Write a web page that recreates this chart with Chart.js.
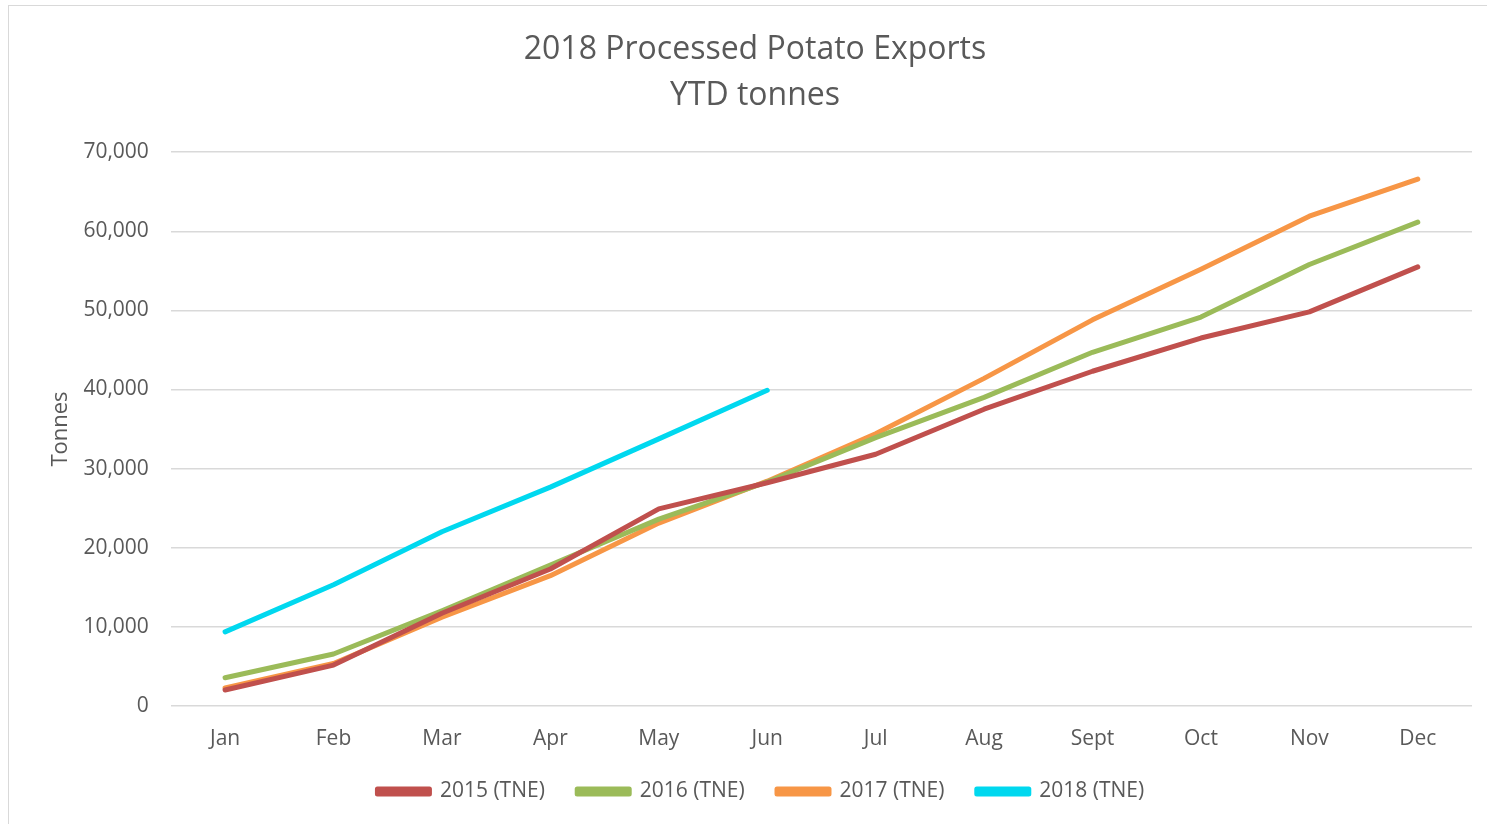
<!DOCTYPE html>
<html>
<head>
<meta charset="utf-8">
<script src="https://cdn.jsdelivr.net/npm/chart.js@4.4.1/dist/chart.umd.min.js"></script>
<style>
  html, body { margin: 0; padding: 0; background: #fff; }
  #wrap { position: absolute; left: 8px; top: 5px; width: 1490px; height: 830px; border: 1px solid #d9d9d9; box-sizing: border-box; }
  canvas { position: absolute; left: -9px; top: -6px; }
</style>
</head>
<body>
<div id="wrap"><canvas id="grafico" width="1487" height="824"></canvas></div>
<script>
// valores
const meses = ['Jan', 'Feb', 'Mar', 'Apr', 'May', 'Jun', 'Jul', 'Aug', 'Sept', 'Oct', 'Nov', 'Dec'];
const tne2015 = [2000, 5150, 11700, 17300, 24900, 28200, 31800, 37500, 42300, 46500, 49800, 55500];
const tne2016 = [3550, 6550, 12000, 17800, 23600, 28300, 33900, 39000, 44700, 49150, 55800, 61150];
const tne2017 = [2250, 5350, 11200, 16450, 23100, 28400, 34400, 41400, 48800, 55200, 61900, 66600];
const tne2018 = [9350, 15300, 22000, 27650, 33750, 39900];
const yTicks = [0, 10000, 20000, 30000, 40000, 50000, 60000, 70000];

const cinza = '#595959';
const fonte = '"Open Sans", sans-serif';

function serie(nome, dados, cor) {
    return {
        label: nome,
        data: dados,
        borderColor: cor,
        backgroundColor: cor,
        borderWidth: 5,
        pointRadius: 0,
        pointHoverRadius: 0,
        borderCapStyle: 'round',
        borderJoinStyle: 'round',
        tension: 0
    };
}

// empurra a legenda um pouco para a direita
const moveLegenda = {
    id: 'moveLegenda',
    afterLayout(chart) {
        chart.legend.left += 14;
        chart.legend.right += 14;
    }
};

window.onload = function() {
    const ctx = document.getElementById('grafico').getContext('2d');
    new Chart(ctx, {
        type: 'line',
        data: {
            labels: meses,
            datasets: [
                serie('2015 (TNE)', tne2015, '#C0504D'),
                serie('2016 (TNE)', tne2016, '#9BBB59'),
                serie('2017 (TNE)', tne2017, '#F79646'),
                serie('2018 (TNE)', tne2018, '#00D8EF')
            ]
        },
        plugins: [moveLegenda],
        options: {
            responsive: false,
            animation: false,
            layout: { padding: { left: 38, right: 15, top: 14, bottom: 12 } },
            plugins: {
                title: {
                    display: true,
                    text: ['2018 Processed Potato Exports', 'YTD tonnes'],
                    color: cinza,
                    font: { family: fonte, size: 32, weight: 'normal', lineHeight: 1.44 },
                    padding: { top: 13, bottom: 33 }
                },
                legend: {
                    position: 'bottom',
                    labels: {
                        color: cinza,
                        font: { family: fonte, size: 21 },
                        boxWidth: 52,
                        boxHeight: 5,
                        padding: 16,
                        // espaço extra entre os itens
                        generateLabels: function(chart) {
                            const itens = Chart.defaults.plugins.legend.labels.generateLabels(chart);
                            itens.forEach(it => { it.text = it.text + '   '; });
                            return itens;
                        }
                    }
                },
                tooltip: { enabled: false }
            },
            scales: {
                x: {
                    offset: true,
                    grid: { display: false },
                    border: { display: false },
                    ticks: { color: cinza, font: { family: fonte, size: 21 }, padding: 13 }
                },
                y: {
                    min: 0,
                    max: 70000,
                    afterBuildTicks: function(axis) {
                        axis.ticks = yTicks.map(v => ({ value: v }));
                    },
                    afterFit: function(axis) { axis.width -= 13; },
                    grid: { color: '#d9d9d9', lineWidth: 1.5, drawTicks: false },
                    border: { display: false },
                    title: {
                        display: true,
                        text: 'Tonnes',
                        color: cinza,
                        font: { family: fonte, size: 22 },
                        padding: { top: 10, bottom: 0 }
                    },
                    ticks: {
                        color: cinza,
                        font: { family: fonte, size: 21 },
                        padding: 22,
                        callback: v => v.toLocaleString('en-US')
                    }
                }
            }
        }
    });
};
</script>
</body>
</html>
